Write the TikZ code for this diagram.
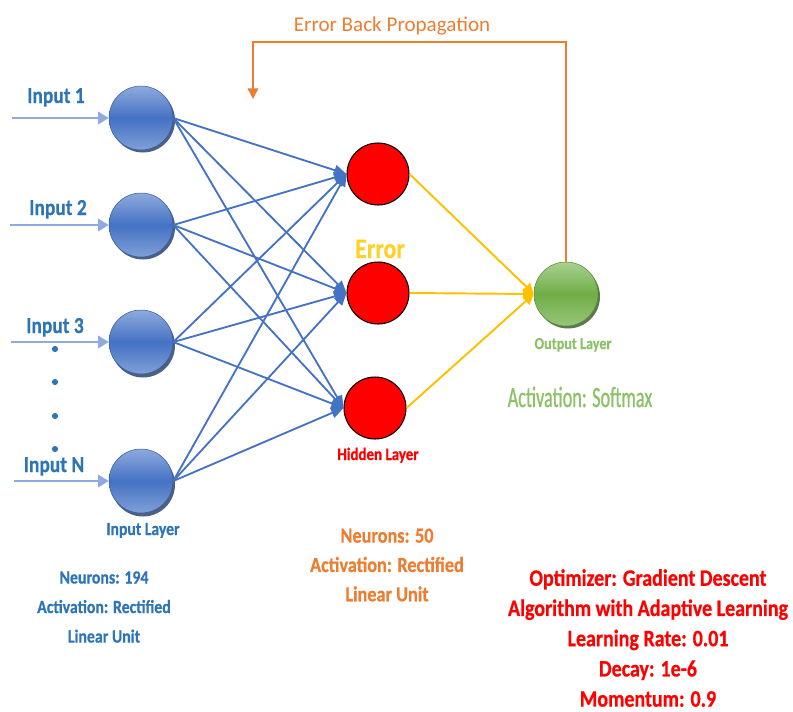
\documentclass[tikz,border=0pt]{standalone}
\usepackage{fontspec}
\setmainfont{Carlito}
\newfontfamily\condfont[FakeStretch=0.85, BoldFeatures={FakeBold=0.6}]{Carlito}
\newfontfamily\narrowfont[FakeStretch=0.62, FakeBold=0.8]{Carlito}
\usetikzlibrary{arrows.meta}
\definecolor{nblue}{HTML}{4472C4}
\definecolor{nbluel}{HTML}{8FAADC}
\definecolor{nblued}{HTML}{203864}
\definecolor{tblue}{HTML}{2E75B6}
\definecolor{ngreen}{HTML}{70AD47}
\definecolor{ngreenl}{HTML}{A9D18E}
\definecolor{ngreend}{HTML}{375623}
\definecolor{tgreen}{HTML}{8CC168}
\definecolor{torange}{HTML}{ED7D31}
\definecolor{gold}{HTML}{FFC000}
\definecolor{tyellow}{HTML}{FFD02A}
\definecolor{nred}{HTML}{FF0000}
\tikzset{
  inball/.style={circle, minimum size=1.28cm, inner sep=0pt, draw=nblue!80!black, line width=0.3pt,
    top color=nbluel, bottom color=nbluel!80!nblue, middle color=nblue},
  outball/.style={circle, minimum size=1.28cm, inner sep=0pt, draw=ngreen!80!black, line width=0.3pt,
    top color=ngreenl, bottom color=ngreenl!70!ngreen, middle color=ngreen},
  hidball/.style={circle, minimum size=1.24cm, inner sep=0pt, draw=black, line width=0.6pt, fill=nred},
  inarrow/.style={draw=nbluel, line width=1.3pt, -{Triangle[length=6pt,width=7pt]}},
  blueconn/.style={draw=nblue, line width=1.05pt, -{Triangle[length=7pt,width=6pt]}},
  goldconn/.style={draw=gold, line width=1.1pt, -{Triangle[length=6pt,width=6pt]}},
  backprop/.style={draw=torange, line width=0.8pt, -{Triangle[length=6pt,width=6pt]}},
  inlabel/.style={text=tblue, font=\condfont\fontsize{13}{15}\selectfont\bfseries, anchor=base, inner sep=0pt},
  dotstyle/.style={circle, fill=tblue, minimum size=3.5pt, inner sep=0pt},
}
\begin{document}
\begin{tikzpicture}[x=0.02cm, y=-0.02cm]
\useasboundingbox (0,0) rectangle (793,711);
% shadows of balls
\foreach \y in {118,225,343,482} {
  \fill[nblued!80] (143,\y+2.5) circle[radius=0.64cm];
}
\fill[ngreend!80] (568,296.5) circle[radius=0.64cm];
% input balls
\node[inball] (i1) at (141,118) {};
\node[inball] (i2) at (141,225) {};
\node[inball] (i3) at (141,342) {};
\node[inball] (iN) at (141,481) {};
% hidden
\node[hidball] (h1) at (378,174) {};
\node[hidball] (h2) at (378,293) {};
\node[hidball] (h3) at (375,408) {};
% output
\node[outball] (o) at (566,294) {};
% input arrows
\coordinate (s1) at (12,118);
\coordinate (s2) at (10,225);
\coordinate (s3) at (11,342);
\coordinate (sN) at (14,481);
\draw[inarrow] (s1) -- (i1.west);
\draw[inarrow] (s2) -- (i2.west);
\draw[inarrow] (s3) -- (i3.west);
\draw[inarrow] (sN) -- (iN.west);
% connections
\foreach \a in {i1,i2,i3,iN} {
  \foreach \b in {h1,h2,h3} {
    \draw[blueconn] (\a.east) -- (\b.west);
  }
}
\foreach \b in {h1,h2,h3} {
  \draw[goldconn] (\b.east) -- (o.west);
}
% back propagation
\coordinate (bp1) at (566,42);
\coordinate (bp2) at (253,42);
\coordinate (bp3) at (253,99);
\draw[backprop] (o.north) -- (bp1) -- (bp2) -- (bp3);
\node[text=torange, font=\fontsize{12}{14}\selectfont, anchor=base, inner sep=0pt] (bpt) at (392,31) {Error Back Propagation};
% labels
\node[inlabel] (l1) at (56,103) {Input 1};
\node[inlabel] (l2) at (58,215) {Input 2};
\node[inlabel] (l3) at (55,333) {Input 3};
\node[inlabel] (lN) at (54,472) {Input N};
\node[dotstyle] (d1) at (55,349) {};
\node[dotstyle] (d2) at (55,382) {};
\node[dotstyle] (d3) at (55,416) {};
\node[dotstyle] (d4) at (55,449) {};
\node[text=tblue, font=\condfont\fontsize{10.5}{12}\selectfont\bfseries, anchor=base, inner sep=0pt] (il) at (143,535) {Input Layer};
\node[text=nred, font=\condfont\fontsize{10}{12}\selectfont\bfseries, anchor=base, inner sep=0pt] (hl) at (378,460) {Hidden Layer};
\node[text=tyellow, font=\condfont\fontsize{16}{18}\selectfont\bfseries, anchor=base, inner sep=0pt] (err) at (380,258) {Error};
\node[text=tgreen, font=\condfont\fontsize{9.5}{11}\selectfont\bfseries, anchor=base, inner sep=0pt] (ol) at (573,349) {Output Layer};
\node[text=tgreen, font=\narrowfont\fontsize{16.7}{18}\selectfont, anchor=base, inner sep=0pt] (act) at (580,407) {Activation: Softmax};
% info blocks
\node[text=tblue, font=\condfont\fontsize{10.6}{16.8}\selectfont\bfseries, align=center, inner sep=0pt] (binfo) at (104,607)
  {Neurons: 194\\Activation: Rectified\\Linear Unit};
\node[text=torange, font=\condfont\fontsize{12.2}{16.7}\selectfont\bfseries, align=center, inner sep=0pt] (oinfo) at (387,565)
  {Neurons: 50\\Activation: Rectified\\Linear Unit};
\node[text=nred, font=\condfont\fontsize{13.4}{17.2}\selectfont\bfseries, align=center, inner sep=0pt] (rinfo) at (648,638)
  {Optimizer: Gradient Descent\\Algorithm with Adaptive Learning\\Learning Rate: 0.01\\Decay: 1e-6\\Momentum: 0.9};
\end{tikzpicture}
\end{document}
